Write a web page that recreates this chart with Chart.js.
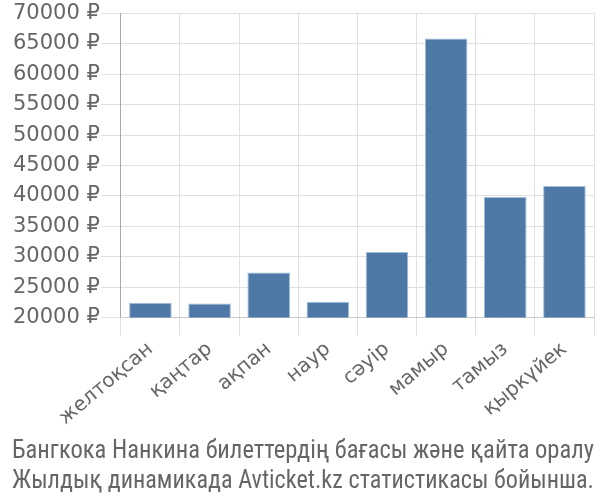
<!DOCTYPE html>
<html><head><meta charset="utf-8">
<script src="https://cdn.jsdelivr.net/npm/chart.js@4/dist/chart.umd.min.js"></script>
<style>html,body{margin:0;padding:0;background:#fff}#wrap{width:600px;height:500px}</style>
</head><body><div id="wrap"><canvas id="c" width="600" height="500"></canvas></div>
<script>
const categories = ["желтоқсан","қаңтар","ақпан","наур","сәуір","мамыр","тамыз","қыркүйек"];
const prices = [22400, 22300, 27400, 22600, 30750, 65900, 39800, 41650];
const titleLines = ["Бангкока Нанкина билеттердің бағасы және қайта оралу","Жылдық динамикада Avticket.kz статистикасы бойынша."];
const currency = " ₽";
const tickFont = '"DejaVu Sans", sans-serif';

new Chart(document.getElementById('c'), {
  type: 'bar',
  data: { labels: categories, datasets: [{ data: prices, backgroundColor: '#4e79a7', borderColor: '#a0bedc', borderWidth: 1 }] },
  options: {
    responsive: false, animation: false,
    layout: { padding: { left: 12, right: 6, top: 6, bottom: 0 } },
    plugins: {
      legend: { display: false }, tooltip: { enabled: false },
      title: { display: true, position: 'bottom', text: titleLines, color: '#666',
        font: { family: '"Roboto Condensed", "DejaVu Sans Condensed", sans-serif', size: 25, weight: 'normal' },
        padding: { top: 5, bottom: 3 }, lineHeight: 1.08 }
    },
    scales: {
      y: { min: 20000, max: 70000,
        ticks: { stepSize: 5000, color: '#666', padding: 1, font: { family: tickFont, size: 21 }, callback: v => v + currency },
        grid: { color: '#e0e0e0', tickLength: 20 }, border: { color: '#aaa' } },
      x: { ticks: { color: '#666', minRotation: 40, maxRotation: 40, padding: 2, font: { family: tickFont, size: 20 } },
        grid: { color: '#e0e0e0', offset: true, tickLength: 18 }, border: { color: '#ccc' } }
    }
  }
});
</script></body></html>
